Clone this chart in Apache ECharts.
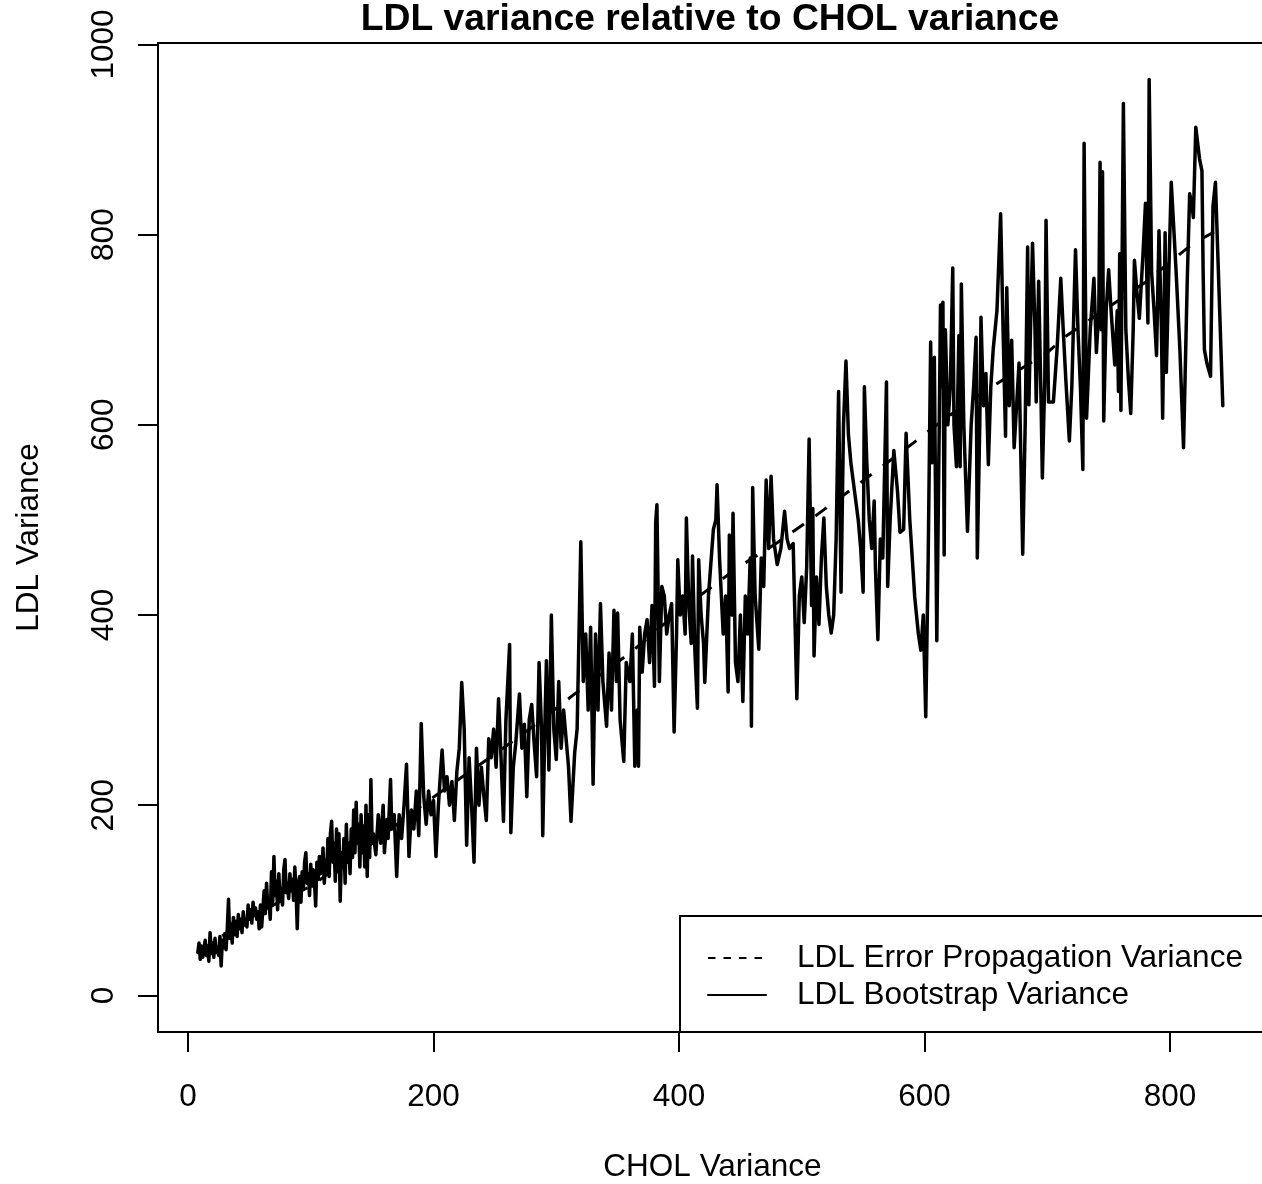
<!DOCTYPE html>
<html>
<head>
<meta charset="utf-8">
<script src="https://cdn.jsdelivr.net/npm/echarts@6/dist/echarts.min.js"></script>
<style>
html,body{margin:0;padding:0;background:#fff;}
#chart{width:1262px;height:1184px;}
</style>
</head>
<body>
<div id="chart"></div>
<script>
// ---- data ----
const xTicks = [0, 200, 400, 600, 800];
const yTicks = [0, 200, 400, 600, 800, 1000];

// LDL Error Propagation Variance (dashed)
const epChol = [9, 50, 100, 150, 195, 270, 314, 360, 401, 448, 480, 512, 558, 591, 615, 651, 700, 716, 780, 819, 842];
const epLdl  = [46, 82, 115, 160, 204, 272, 316, 360, 405, 450, 476, 505, 549, 581, 605, 637, 676, 694, 750, 791, 807];

// LDL Bootstrap Variance (solid)
const cholVar = [
  8,9,10,11,12,14,15,16,17,18,19,20,21,22,23,24,25,26,27,28,29,30,31,32,33,34,35,36,37,38,39,40,
  41,42,43,44,45,46,47,48,49,50,51,52,53,54,55,56,57,58,59,60,62,63,64,65,66,67,68,69,70,71,72,73,
  74,75,76,77,78,79,80,81,82,83,84,85,86,87,88,89,90,91,92,93,94,95,96,97,98,99,100,101,102,103,104,105,
  106,107,108,109,110,111,112,113,114,115,116,117,118,119,120,121,122,123,124,125,126,127,128,129,130,131,132,133,134,135,136,137,
  138,139,140,141,142,143,144,145,146,147,148,149,150,
  151,153,155,157,159,160,162,163,165,166,168,170,172,174,176,178,180,182,184,186,188,190,192,194,196,198,200,202,204,205,207,209,
  211,213,215,217,219,221,223,225,227,229,231,233,235,237,239,241,243,245,247,249,251,253,255,257,259,262,263,265,267,270,272,274,
  276,278,280,282,284,286,288,289,291,292,294,296,298,300,302,304,306,308,310,312,315,317,320,322,324,326,328,330,332,334,336,338,
  341,343,345,347,349,350,352,355,357,360,362,364,366,367,368,370,372,374,376,378,380,381,382,384,386,388,390,392,394,396,398,399,
  401,403,405,406,408,410,411,413,415,416,418,420,421,424,428,430,431,433,436,438,440,441,443,444,446,448,
  450,452,454,456,458,459,460,462,465,467,469,471,473,475,477,480,483,486,488,490,493,496,498,500,502,504,506,508,509,510,512,514,
  516,518,520,522,524,526,528,530,532,534,536,538,540,542,544,546,548,550,551,553,555,557,559,560,562,564,566,569,570,572,575,578,
  580,583,585,588,590,592,595,597,599,601,603,605,606,608,610,612,613,614,615,616,617,619,621,623,624,626,628,629,630,632,635,638,
  640,642,643,645,646,648,650,652,654,656,659,662,664,666,667,669,671,673,675,677,680,682,684,685,687,688,690,691,693,695,696,698,
  699,701,703,705,708,711,713,715,718,720,723,725,727,729,730,732,735,738,740,742,743,744,745,746,748,750,752,755,757,758,759,760,
  762,764,766,768,770,771,773,775,778,780,781,782,783,785,787,789,791,793,794,796,797,799,801,803,805,808,811,814,816,818,819,821,
  824,826,827,828,830,833,835,837,843
];
const ldlBoot = [
  45,55,38,52,40,58,42,50,36,66,44,55,40,60,45,50,42,62,31,58,50,65,48,70,101,60,75,55,82,64,78,62,
  85,70,80,66,88,74,78,72,95,80,90,76,98,84,92,80,88,70,95,72,110,86,118,92,100,80,130,98,146,105,120,90,
  128,100,112,95,132,143,108,118,102,128,110,122,100,135,112,70,118,125,98,130,112,140,150,118,128,105,138,115,132,120,94,140,
  122,146,128,135,155,118,142,130,165,125,170,183,140,160,120,175,130,170,99,150,135,165,118,180,140,160,128,175,145,195,150,203,
  160,180,135,190,150,178,135,200,125,190,145,227,160,
  170,148,190,160,200,150,185,165,227,175,190,125,190,165,200,243,146,195,175,215,168,286,210,180,215,190,205,146,200,220,258,215,
  230,200,225,184,235,260,329,280,158,250,200,140,260,200,240,210,184,270,250,280,240,312,250,183,290,369,171,240,265,317,260,285,
  209,290,306,265,230,350,280,168,300,352,237,400,280,248,330,260,300,270,240,183,255,280,477,330,380,300,387,222,380,300,412,330,
  283,360,300,405,330,402,290,246,350,330,380,241,300,241,387,340,380,395,350,410,325,497,516,330,430,420,380,400,412,277,380,458,
  400,420,380,502,410,370,462,360,302,458,400,370,329,420,490,500,537,460,380,420,319,484,400,507,350,330,
  400,309,420,380,460,283,534,420,364,460,430,542,470,546,480,453,470,509,480,470,475,312,420,440,392,450,585,410,512,357,440,390,
  460,502,430,400,381,400,480,635,424,600,667,590,560,540,520,500,470,424,640,560,500,470,520,450,374,480,460,645,430,500,573,530,
  487,490,591,500,460,419,380,363,400,293,460,687,560,671,373,600,726,640,729,463,700,600,640,765,600,556,694,556,748,600,488,600,
  640,692,460,600,713,620,654,558,640,680,720,822,700,588,744,620,689,576,620,665,464,600,787,621,740,791,700,624,751,620,544,650,
  815,624,624,624,680,754,700,650,583,640,784,700,640,553,896,607,700,754,676,720,876,700,866,604,720,763,720,663,720,635,780,615,
  938,700,650,612,700,773,740,712,780,833,760,707,963,760,720,673,804,700,607,802,655,760,855,808,760,680,576,750,843,830,818,913,
  880,867,759,679,665,651,830,855,620
];

// ---- chart ----
const bootData = cholVar.map((x, i) => [x, ldlBoot[i]]);
const epData = epChol.map((x, i) => [x, epLdl[i]]);
const FONT = '"Liberation Sans", Arial, Helvetica, sans-serif';

const chart = echarts.init(document.getElementById('chart'), null, {renderer: 'canvas'});
chart.setOption({
  animation: false,
  backgroundColor: '#ffffff',
  title: {
    text: 'LDL variance relative to CHOL variance',
    left: 710,
    textAlign: 'center',
    top: 1,
    padding: 0,
    textStyle: {fontFamily: FONT, fontWeight: 'bold', fontSize: 37.3, color: '#000'}
  },
  legend: {
    left: 680,
    top: 916,
    orient: 'vertical',
    padding: [26, 30, 21, 27],
    itemGap: 5,
    itemWidth: 58,
    itemHeight: 14,
    backgroundColor: '#fff',
    borderColor: '#000',
    borderWidth: 2,
    borderRadius: 0,
    textStyle: {fontFamily: FONT, fontSize: 31.5, color: '#000', padding: [0, 0, 0, 26]},
    itemStyle: {opacity: 0, color: 'transparent', borderWidth: 0},
    lineStyle: {width: 2},
    data: [
      {name: 'LDL Error Propagation Variance', lineStyle: {width: 2, type: [7.5, 8], color: '#000'}, itemStyle: {opacity: 0, color: 'transparent', borderWidth: 0}},
      {name: 'LDL Bootstrap Variance', lineStyle: {width: 2, type: 'solid', color: '#000'}, itemStyle: {opacity: 0, color: 'transparent', borderWidth: 0}}
    ]
  },
  grid: {left: 158, top: 43, right: -5, bottom: 152, show: true, borderColor: '#000', borderWidth: 2, backgroundColor: 'transparent', containLabel: false, outerBoundsMode: 'none'},
  xAxis: {
    type: 'value',
    min: -24.44,
    max: 879,
    name: 'CHOL Variance',
    nameLocation: 'middle',
    nameGap: 119,
    nameTextStyle: {fontFamily: FONT, fontSize: 31.5, color: '#000'},
    axisLine: {show: false, onZero: false},
    splitLine: {show: false},
    axisTick: {show: true, customValues: xTicks, length: 20, inside: false, lineStyle: {color: '#000', width: 2}},
    axisLabel: {customValues: xTicks, margin: 49, fontFamily: FONT, fontSize: 31.5, color: '#000', formatter: v => String(v)}
  },
  yAxis: {
    type: 'value',
    min: -38.5,
    max: 1001.5,
    name: 'LDL Variance',
    nameLocation: 'middle',
    nameGap: 113,
    nameTextStyle: {fontFamily: FONT, fontSize: 31.5, color: '#000'},
    axisLine: {show: false, onZero: false},
    splitLine: {show: false},
    axisTick: {show: true, customValues: yTicks, length: 20, inside: false, lineStyle: {color: '#000', width: 2}},
    axisLabel: {customValues: yTicks, rotate: 90, margin: 38, fontFamily: FONT, fontSize: 31.5, color: '#000', formatter: v => String(v)}
  },
  series: [
    {
      name: 'LDL Error Propagation Variance',
      type: 'line',
      data: epData,
      symbol: 'none',
      showSymbol: false,
      lineStyle: {color: '#000', width: 3, type: [14, 14], cap: 'butt', join: 'round'},
      itemStyle: {color: '#000'},
      z: 3
    },
    {
      name: 'LDL Bootstrap Variance',
      type: 'line',
      data: bootData,
      symbol: 'none',
      showSymbol: false,
      lineStyle: {color: '#000', width: 3.5, type: 'solid', cap: 'round', join: 'round'},
      itemStyle: {color: '#000'},
      z: 2
    }
  ]
});
</script>
</body>
</html>
